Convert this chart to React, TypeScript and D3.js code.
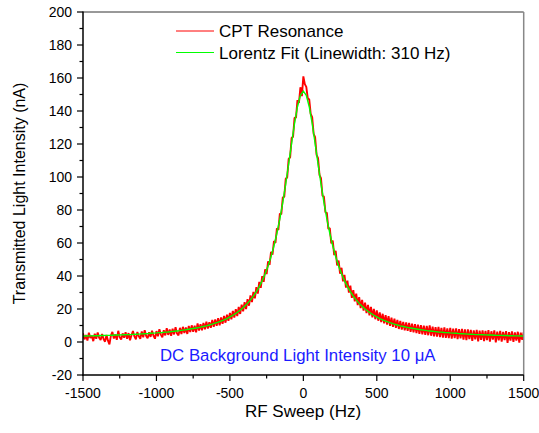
import React from "react";
import * as d3 from "d3";

// Sweep grids (Hz)
const cptHz: number[] = d3.range(-1500, 1501, 10);
const fitHz: number[] = d3.range(-1500, 1501, 20);

// CPT resonance (nA), -1500..1500 Hz every 10 Hz
const cptValues: number[] = [
  5.3, 1.6, 4.2, 0.9, 5.6, 2.4, 3.8, 0.5, 5.0, 2.0,
  5.7, 2.6, 1.2, 4.9, 1.8, 0.2, 4.3, 0.8, -1.4, 3.9,
  6.1, 2.1, 4.6, 1.3, 6.8, 2.9, 1.5, 5.2, 2.6, 5.9,
  1.9, 5.4, 1.1, 4.1, 6.6, 3.4, 1.7, 6.1, 3.5, 2.0,
  6.4, 2.8, 7.2, 3.7, 2.2, 5.9, 3.1, 6.8, 3.8, 2.0,
  6.6, 3.5, 7.7, 4.5, 2.8, 7.1, 4.0, 8.3, 4.3, 7.6,
  3.8, 8.1, 4.6, 8.9, 5.2, 4.0, 8.6, 4.8, 9.2, 5.5,
  8.8, 4.9, 9.7, 6.0, 10.1, 6.2, 9.8, 5.9, 11.2, 7.0,
  10.8, 7.1, 11.6, 7.7, 12.3, 8.1, 12.0, 8.6, 13.4, 9.2,
  13.7, 9.8, 14.5, 10.1, 14.9, 11.0, 15.8, 11.7, 16.5, 12.8,
  17.6, 13.7, 18.8, 14.8, 19.9, 15.7, 21.2, 17.0, 22.6, 18.6,
  24.2, 19.9, 26.0, 22.0, 28.2, 24.2, 30.3, 26.5, 33.2, 29.3,
  36.4, 32.8, 39.9, 36.5, 44.0, 41.2, 48.9, 46.8, 54.6, 53.0,
  61.2, 60.0, 68.9, 67.9, 77.8, 77.4, 87.7, 88.0, 98.9, 99.7,
  111.0, 111.9, 123.6, 124.4, 135.9, 136.0, 146.6, 144.9, 154.4, 149.0,
  161.0,
  156.3, 154.6, 147.8, 147.0, 138.3, 136.3, 126.2, 124.1, 113.4, 111.4,
  101.1, 99.3, 88.7, 88.2, 78.7, 78.3, 68.6, 69.1, 59.8, 61.5,
  52.7, 55.2, 46.4, 49.4, 41.4, 45.0, 36.8, 40.7, 33.0, 37.2,
  29.9, 34.2, 26.7, 31.4, 24.6, 29.3, 22.3, 27.2, 20.5, 25.5,
  19.0, 23.8, 17.5, 22.5, 16.2, 21.3, 15.0, 20.0, 13.8, 19.1,
  12.9, 18.0, 12.0, 17.1, 11.3, 16.2, 10.6, 15.6, 9.8, 14.7,
  9.2, 14.1, 8.6, 13.4, 7.9, 12.8, 7.5, 12.2, 7.0, 11.8,
  6.7, 11.6, 6.2, 11.1, 5.8, 10.8, 5.4, 10.5, 5.0, 10.2,
  4.7, 9.9, 4.4, 9.7, 4.1, 10.1, 3.8, 9.3, 3.4, 9.0,
  3.2, 9.1, 2.9, 8.6, 2.7, 8.8, 2.5, 8.3, 2.3, 8.5,
  2.0, 8.1, 2.4, 8.2, 1.7, 7.8, 2.2, 8.0, 1.5, 7.6,
  1.2, 7.7, 1.8, 7.3, 0.7, 7.1, 1.6, 7.4, 0.4, 6.9,
  1.3, 7.1, 0.6, 6.7, 1.1, 7.2, 0.2, 6.5, 1.4, 7.0,
  -0.3, 6.3, 1.0, 6.8, 0.3, 6.1, 1.2, 6.6, -0.6, 6.0,
  0.9, 6.4, 0.1, 5.8, 0.8, 6.2, -0.4, 5.6, 1.3, 5.9,
];

// Lorentz fit (nA), -1500..1500 Hz every 20 Hz
const fitValues: number[] = [
  3.6, 3.6, 3.7, 3.7, 3.8, 3.8, 3.9, 3.9, 4.0, 4.0,
  4.1, 4.2, 4.2, 4.3, 4.4, 4.5, 4.5, 4.6, 4.7, 4.8,
  4.9, 5.0, 5.1, 5.3, 5.4, 5.5, 5.7, 5.8, 6.0, 6.1,
  6.3, 6.5, 6.7, 6.9, 7.2, 7.4, 7.7, 8.0, 8.3, 8.6,
  9.0, 9.4, 9.8, 10.3, 10.8, 11.4, 12.0, 12.7, 13.4, 14.2,
  15.2, 16.2, 17.3, 18.6, 20.0, 21.6, 23.4, 25.5, 27.8, 30.5,
  33.6, 37.2, 41.3, 46.1, 51.8, 58.3, 65.9, 74.6, 84.6, 95.8,
  107.9, 120.4, 132.5, 142.6, 149.5,
  152,
  149.5, 142.6, 132.5, 120.4, 107.9,
  95.8, 84.6, 74.6, 65.9, 58.3, 51.8, 46.1, 41.3, 37.2, 33.6,
  30.5, 27.8, 25.5, 23.4, 21.6, 20.0, 18.6, 17.3, 16.2, 15.2,
  14.2, 13.4, 12.7, 12.0, 11.4, 10.8, 10.3, 9.8, 9.4, 9.0,
  8.6, 8.3, 8.0, 7.7, 7.4, 7.2, 6.9, 6.7, 6.5, 6.3,
  6.1, 6.0, 5.8, 5.7, 5.5, 5.4, 5.3, 5.1, 5.0, 4.9,
  4.8, 4.7, 4.6, 4.5, 4.5, 4.4, 4.3, 4.2, 4.2, 4.1,
  4.0, 4.0, 3.9, 3.9, 3.8, 3.8, 3.7, 3.7, 3.6, 3.6,
];

const xTicks: number[] = [-1500, -1000, -500, 0, 500, 1000, 1500];
const xMinor: number[] = [-1250, -750, -250, 250, 750, 1250];
const yTicks: number[] = [-20, 0, 20, 40, 60, 80, 100, 120, 140, 160, 180, 200];
const yMinor: number[] = [-10, 10, 30, 50, 70, 90, 110, 130, 150, 170, 190];

const legendLabels = ["CPT Resonance", "Lorentz Fit (Linewidth: 310 Hz)"];
const xTitle = "RF Sweep (Hz)";
const yTitle = "Transmitted Light Intensity (nA)";
const note = "DC Background Light Intensity 10 \u03bcA";

const W = 539;
const H = 433;
const L = 83;
const R = 523.7;
const T = 12;
const B = 375;
const FONT = "'Liberation Sans', Arial, Helvetica, sans-serif";

export default function App() {
  const x = d3.scaleLinear().domain([-1500, 1500]).range([L, R]);
  const y = d3.scaleLinear().domain([-20, 200]).range([B, T]);

  const cptLine = d3
    .line<number>()
    .x((_, i) => x(cptHz[i]))
    .y((d) => y(d))(cptValues) as string;
  const fitLine = d3
    .line<number>()
    .x((_, i) => x(fitHz[i]))
    .y((d) => y(d))(fitValues) as string;

  return (
    <svg
      width={W}
      height={H}
      style={{ position: "absolute", left: 0, top: 0, background: "#fff" }}
      fontFamily={FONT}
    >
      <rect x={0} y={0} width={W} height={H} fill="#fff" />
      <defs>
        <clipPath id="plotclip">
          <rect x={L} y={T} width={R - L} height={B - T} />
        </clipPath>
      </defs>
      <g clipPath="url(#plotclip)">
        <path d={cptLine} fill="none" stroke="#ff0000" strokeWidth={1.9} strokeLinejoin="bevel" />
        <path d={fitLine} fill="none" stroke="#00ff00" strokeWidth={1.4} />
      </g>

      {/* frame */}
      <line x1={L} x2={R} y1={T} y2={T} stroke="#333" strokeWidth={1} />
      <line x1={R} x2={R} y1={T} y2={B} stroke="#888" strokeWidth={1.5} />
      <line x1={L} x2={L} y1={T - 0.5} y2={B + 0.75} stroke="#000" strokeWidth={1.5} />
      <line x1={L - 0.75} x2={R} y1={B} y2={B} stroke="#000" strokeWidth={1.5} />

      {/* x ticks */}
      {xTicks.map((t) => (
        <g key={"xt" + t}>
          <line x1={x(t)} x2={x(t)} y1={B} y2={B + 6} stroke="#000" strokeWidth={1.2} />
          <text x={x(t)} y={398} fontSize={14} textAnchor="middle" fill="#000">
            {t}
          </text>
        </g>
      ))}
      {xMinor.map((t) => (
        <line key={"xm" + t} x1={x(t)} x2={x(t)} y1={B} y2={B + 3.5} stroke="#000" strokeWidth={1.2} />
      ))}

      {/* y ticks */}
      {yTicks.map((t) => (
        <g key={"yt" + t}>
          <line x1={L - 6} x2={L} y1={y(t)} y2={y(t)} stroke="#000" strokeWidth={1.2} />
          <text x={72} y={y(t) + 5} fontSize={14} textAnchor="end" fill="#000">
            {t}
          </text>
        </g>
      ))}
      {yMinor.map((t) => (
        <line key={"ym" + t} x1={L - 3.5} x2={L} y1={y(t)} y2={y(t)} stroke="#000" strokeWidth={1.2} />
      ))}

      {/* titles */}
      <text x={303} y={417} fontSize={17} textAnchor="middle" fill="#000">
        {xTitle}
      </text>
      <text
        transform={`translate(25,${(T + B) / 2}) rotate(-90)`}
        fontSize={16}
        textAnchor="middle"
        fill="#000"
      >
        {yTitle}
      </text>

      {/* legend */}
      <line x1={176} x2={214} y1={31} y2={31} stroke="#ff0000" strokeWidth={1} />
      <text x={219} y={37} fontSize={17} fill="#000">
        {legendLabels[0]}
      </text>
      <line x1={176} x2={214} y1={52.5} y2={52.5} stroke="#00ff00" strokeWidth={1.2} />
      <text x={219} y={58.5} fontSize={17} fill="#000">
        {legendLabels[1]}
      </text>

      {/* annotation */}
      <text x={160} y={361} fontSize={16.8} fill="#1a1aff">
        {note}
      </text>
    </svg>
  );
}
